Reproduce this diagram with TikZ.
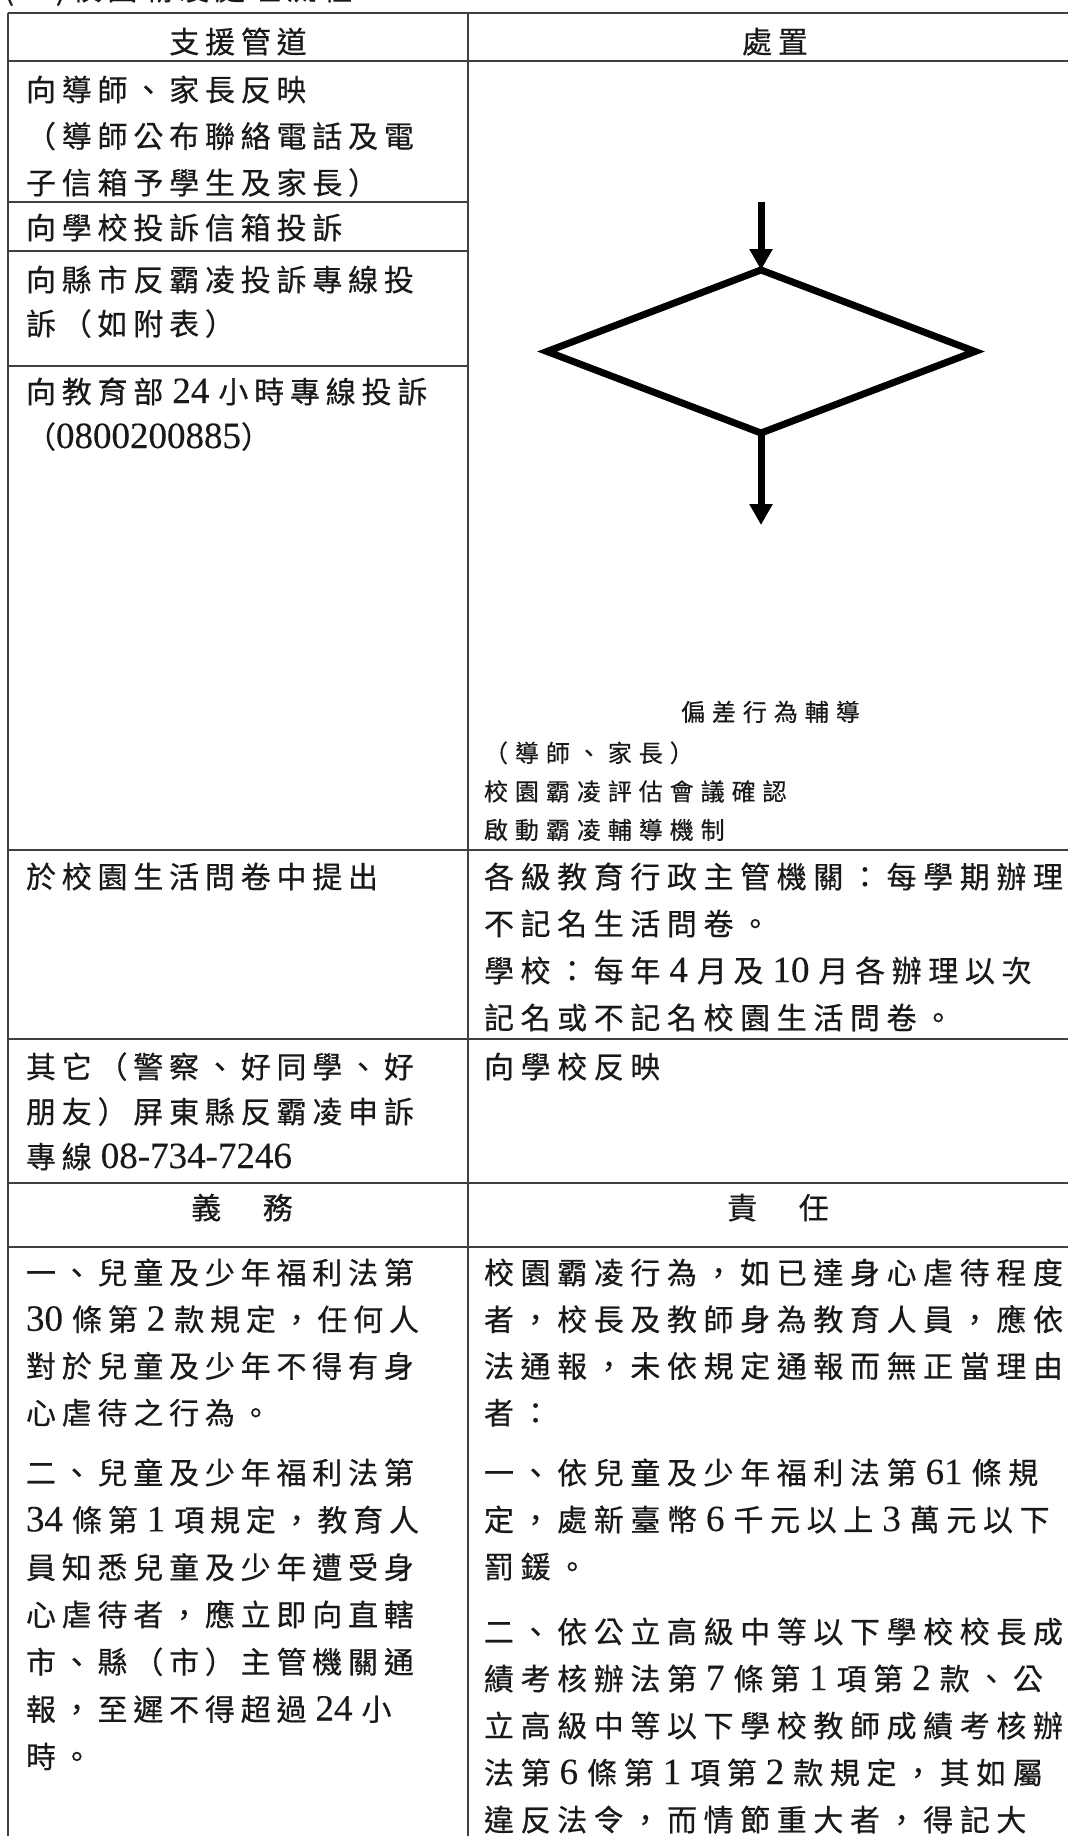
\documentclass[tikz,border=0pt]{standalone}
\usepackage{fontspec}
\usetikzlibrary{shapes.geometric,arrows.meta}
\newfontfamily\cjk[LetterSpace=19.3,FakeBold=0.5]{Noto Sans CJK TC}
\newfontfamily\cjkr[LetterSpace=22,FakeBold=0.5]{Noto Sans CJK TC}
\newfontfamily\cjks[LetterSpace=29,FakeBold=0.4]{Noto Sans CJK TC}
\newfontfamily\numfont[FakeBold=0.3]{Liberation Serif}
\newcommand\nfont{\cjk\fontsize{30}{46.5}\selectfont}
\newcommand\rfont{\cjkr\fontsize{30}{46.5}\selectfont}
\newcommand\smfont{\cjks\fontsize{24}{38.5}\selectfont}
\newcommand\dgt[1]{{\numfont\fontsize{37}{46}\selectfont#1}}
\newcommand\numA[1]{\kern9pt\dgt{#1}\kern9pt}
\newcommand\numB[1]{\dgt{#1}\kern9pt}
\newcommand\cellbox[2][46.5pt]{\parbox[t]{700pt}{\nfont\baselineskip=#1 #2}}
\newcommand\rcellbox[2][46.5pt]{\parbox[t]{700pt}{\rfont\baselineskip=#1 #2}}
\newcommand\smbox[1]{\parbox[t]{600pt}{\smfont #1}}
\begin{document}
\begin{tikzpicture}[x=1pt,y=-1pt,
  grid/.style={line width=2pt,draw=black!75},
  txt/.style={anchor=base west,inner sep=0pt,outer sep=0pt,text=black!90},
  hdr/.style={anchor=base,inner sep=0pt,outer sep=0pt,text=black!90,font=\nfont},
  flow/.style={line width=7pt,draw=black},
  tip/.style={-{Triangle[length=21pt,width=22pt]}}]
\useasboundingbox (0,0) rectangle (1068,1836);
% partially visible title (cut at top edge)
\node[txt] (title) at (4,0) {\nfont (二)校園霸凌處理流程：};
% table grid
\draw[grid] (8,13) -- (1068,13);
\draw[grid] (8,61) -- (1068,61);
\draw[grid] (8,202) -- (468,202);
\draw[grid] (8,251) -- (468,251);
\draw[grid] (8,366) -- (468,366);
\draw[grid] (8,850) -- (1068,850);
\draw[grid] (8,1039) -- (1068,1039);
\draw[grid] (8,1183) -- (1068,1183);
\draw[grid] (8,1247) -- (1068,1247);
\draw[grid] (8,13) -- (8,1836);
\draw[grid] (468,13) -- (468,1836);
% headers
\node[hdr] (h1) at (238,53) {支援管道};
\node[hdr] (h2) at (775,53) {處置};
\node[hdr] (h3) at (242,1219) {義　務};
\node[hdr] (h4) at (778,1219) {責　任};
% left column cells
\node[txt] (l1) at (26,101) {\cellbox{向導師、家長反映\\（導師公布聯絡電話及電\\子信箱予學生及家長）}};
\node[txt] (l2) at (26,239) {\cellbox{向學校投訴信箱投訴}};
\node[txt] (l3) at (26,291) {\cellbox[44pt]{向縣市反霸凌投訴專線投\\訴（如附表）}};
\node[txt] (l4) at (26,403) {\cellbox[45pt]{向教育部\numA{24}小時專線投訴\\（\dgt{0800200885}）}};
\node[txt] (l5) at (26,888) {\cellbox{於校園生活問卷中提出}};
\node[txt] (l6) at (26,1078) {\cellbox[45pt]{其它（警察、好同學、好\\朋友）屏東縣反霸凌申訴\\專線\numA{08-734-7246}}};
\node[txt] (l7) at (26,1284) {\cellbox[46.7pt]{一、兒童及少年福利法第\\\numB{30}條第\numA{2}款規定，任何人\\對於兒童及少年不得有身\\心虐待之行為。}};
\node[txt] (l8) at (26,1484) {\cellbox[47.3pt]{二、兒童及少年福利法第\\\numB{34}條第\numA{1}項規定，教育人\\員知悉兒童及少年遭受身\\心虐待者，應立即向直轄\\市、縣（市）主管機關通\\報，至遲不得超過\numA{24}小\\時。}};
% flow chart in the right cell
\coordinate (a0) at (761,202);
\coordinate (a1) at (761,525);
\node[diamond,flow,minimum width=428pt,minimum height=163pt,inner sep=0pt,outer sep=0pt] (dia) at (761,351.5) {};
\draw[flow,tip] (a0) -- (dia.north);
\draw[flow,tip] (dia.south) -- (a1);
\node[txt] (s1) at (681,721) {\smbox{偏差行為輔導}};
\node[txt] (s2) at (484,762) {\smbox{（導師、家長）\\校園霸凌評估會議確認\\啟動霸凌輔導機制}};
% right column cells
\node[txt] (r5) at (484,888) {\rcellbox[47pt]{各級教育行政主管機關：每學期辦理\\不記名生活問卷。\\學校：每年\numA{4}月及\numA{10}月各辦理以次\\記名或不記名校園生活問卷。}};
\node[txt] (r6) at (484,1078) {\rcellbox{向學校反映}};
\node[txt] (r7) at (484,1284) {\rcellbox[46.7pt]{校園霸凌行為，如已達身心虐待程度\\者，校長及教師身為教育人員，應依\\法通報，未依規定通報而無正當理由\\者：}};
\node[txt] (r8) at (484,1484) {\rcellbox[47pt]{一、依兒童及少年福利法第\numA{61}條規\\定，處新臺幣\numA{6}千元以上\numA{3}萬元以下\\罰鍰。}};
\node[txt] (r9) at (484,1643) {\rcellbox[47pt]{二、依公立高級中等以下學校校長成\\績考核辦法第\numA{7}條第\numA{1}項第\numA{2}款、公\\立高級中等以下學校教師成績考核辦\\法第\numA{6}條第\numA{1}項第\numA{2}款規定，其如屬\\違反法令，而情節重大者，得記大}};
\end{tikzpicture}
\end{document}
